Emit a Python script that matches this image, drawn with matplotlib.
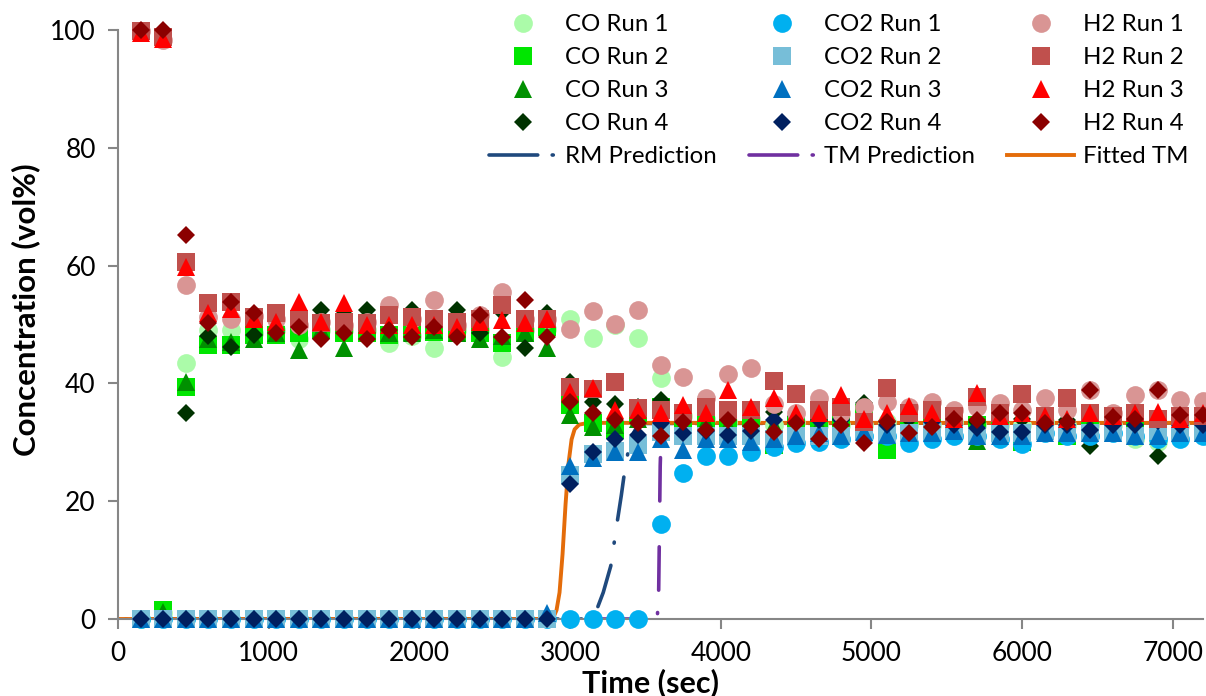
import matplotlib
matplotlib.use("Agg")
import matplotlib.pyplot as plt
from matplotlib.lines import Line2D

# ---------------- data ----------------
time_s = [150, 300, 450, 600, 750, 900, 1050, 1200, 1350, 1500, 1650, 1800,
          1950, 2100, 2250, 2400, 2550, 2700, 2850, 3000, 3150, 3300, 3450, 3600,
          3750, 3900, 4050, 4200, 4350, 4500, 4650, 4800, 4950, 5100, 5250, 5400,
          5550, 5700, 5850, 6000, 6150, 6300, 6450, 6600, 6750, 6900, 7050, 7200]

co_run1 = [0, 1.0, 43.4, 49.1, 49.1, 48.5, 49.0, 47.6, 49.0, 49.0, 49.0, 46.8,
           48.0, 46.0, 49.0, 49.0, 44.5, 49.0, 49.2, 51.0, 47.7, 50.0, 47.7, 41.0,
           34.5, 34.0, 33.5, 34.0, 33.0, 33.5, 33.0, 33.0, 33.0, 33.5, 33.0, 33.0,
           33.5, 33.0, 33.0, 33.0, 33.5, 33.0, 33.0, 33.0, 30.5, 30.0, 33.0, 33.0]
co_run2 = [0, 1.5, 39.4, 46.5, 46.5, 48.2, 48.2, 48.5, 49.0, 48.5, 48.5, 48.2,
           48.8, 48.8, 48.5, 48.5, 46.8, 48.5, 49.5, 36.3, 33.2, 32.1, 35.0, 36.0,
           34.0, 33.0, 33.5, 33.5, 29.5, 33.0, 34.0, 33.0, 35.0, 28.7, 33.5, 34.0,
           33.0, 33.0, 33.0, 30.0, 34.4, 31.0, 33.0, 33.0, 33.0, 33.0, 33.0, 33.0]
co_run3 = [0, 1.2, 40.3, 47.6, 47.0, 47.6, 48.5, 45.7, 49.0, 46.0, 49.9, 48.5,
           48.5, 49.0, 48.5, 47.6, 48.0, 48.5, 46.0, 34.6, 32.6, 33.0, 34.0, 34.0,
           33.0, 33.5, 33.0, 33.0, 33.0, 33.0, 33.0, 31.5, 33.5, 33.0, 33.0, 33.0,
           33.0, 30.3, 33.0, 33.0, 33.0, 33.0, 33.0, 33.0, 33.0, 32.0, 33.0, 33.0]
co_run4 = [0, 0, 34.9, 48.0, 46.2, 48.2, 51.3, 50.8, 52.5, 51.7, 52.5, 51.4,
           52.4, 50.5, 52.5, 48.5, 52.2, 46.0, 51.9, 40.3, 36.9, 36.5, 36.0, 37.2,
           34.9, 36.2, 34.9, 35.0, 35.2, 34.5, 36.0, 34.0, 36.6, 33.7, 34.0, 35.2,
           35.0, 33.5, 34.0, 34.0, 33.5, 33.8, 29.3, 33.5, 34.0, 27.6, 31.8, 33.0]

co2_run1 = [0, 0, 0, 0, 0, 0, 0, 0, 0, 0, 0, 0, 0, 0, 0, 0, 0, 0, 0, 0, 0, 0, 0,
            16.1, 24.8, 27.7, 27.7, 28.4, 29.2, 29.9, 30.0, 30.5, 31.0, 31.0, 29.9,
            30.5, 31.0, 31.0, 30.5, 29.7, 31.5, 31.0, 31.0, 31.5, 31.0, 30.5, 30.5, 31.0]
co2_run2 = [0, 0, 0, 0, 0, 0, 0, 0, 0, 0, 0, 0, 0, 0, 0, 0, 0, 0, 0,
            24.4, 28.0, 28.5, 29.5, 31.7, 31.0, 31.0, 31.0, 31.0, 30.5, 31.0, 31.0,
            31.0, 32.0, 31.2, 31.5, 32.0, 32.0, 31.0, 31.5, 31.5, 32.0, 31.5, 31.5,
            31.5, 31.0, 32.0, 31.5, 31.5]
co2_run3 = [0, 0, 0, 0, 0, 0, 0, 0, 0, 0, 0, 0, 0, 0, 0, 0, 0, 0, 1.0,
            25.9, 27.4, 28.3, 28.4, 30.5, 28.7, 30.5, 30.5, 30.0, 30.5, 31.0, 31.5,
            31.0, 31.8, 31.2, 31.5, 31.5, 32.0, 31.0, 31.0, 31.0, 31.5, 31.5, 31.5,
            31.5, 31.0, 31.0, 31.5, 31.5]
co2_run4 = [0, 0, 0, 0, 0, 0, 0, 0, 0, 0, 0, 0, 0, 0, 0, 0, 0, 0, 0,
            23.0, 28.4, 30.5, 31.2, 33.2, 31.6, 32.0, 31.3, 32.0, 33.8, 33.5, 33.8,
            33.8, 34.6, 33.0, 34.6, 33.5, 33.0, 32.5, 31.8, 31.8, 33.0, 33.0, 32.1,
            33.0, 33.0, 33.7, 33.0, 33.0]

h2_run1 = [99.8, 98.3, 56.7, 51.3, 51.0, 51.5, 51.0, 50.0, 50.5, 50.0, 50.5, 53.3,
           51.0, 54.2, 50.0, 51.6, 55.6, 51.0, 51.0, 49.2, 52.3, 50.1, 52.5, 43.2,
           41.1, 37.5, 41.6, 42.6, 36.5, 35.0, 37.5, 35.0, 36.0, 36.9, 36.0, 36.9,
           35.5, 36.0, 36.6, 35.5, 37.6, 35.5, 38.9, 35.0, 38.0, 38.9, 37.2, 37.0]
h2_run2 = [99.9, 98.8, 60.6, 53.6, 53.9, 51.3, 51.9, 51.0, 50.2, 50.5, 50.2, 51.6,
           51.3, 51.0, 50.5, 51.0, 53.3, 51.0, 51.0, 39.4, 39.0, 40.2, 35.8, 35.5,
           35.0, 36.0, 35.5, 35.5, 40.4, 38.2, 35.5, 36.0, 33.5, 39.2, 35.0, 35.5,
           34.5, 37.7, 35.0, 38.2, 34.5, 37.5, 34.9, 34.5, 35.0, 34.0, 34.5, 34.5]
h2_run3 = [99.5, 98.5, 59.8, 51.9, 52.7, 51.0, 50.5, 53.9, 50.5, 53.6, 50.0, 50.0,
           49.9, 50.0, 49.6, 50.5, 50.8, 50.2, 51.0, 38.5, 39.2, 35.5, 35.5, 35.0,
           36.3, 35.0, 38.9, 36.0, 37.5, 35.0, 35.0, 38.0, 34.0, 35.0, 36.2, 35.0,
           34.0, 38.3, 34.5, 35.0, 34.5, 34.0, 35.0, 34.5, 35.0, 35.2, 34.0, 35.0]
h2_run4 = [100.0, 100.0, 65.2, 50.2, 53.9, 51.9, 48.6, 49.5, 47.6, 48.5, 47.6, 49.1,
           47.8, 49.6, 47.8, 51.6, 47.9, 54.2, 47.9, 36.9, 34.9, 33.8, 33.2, 31.0,
           33.5, 32.1, 33.8, 32.8, 31.8, 33.2, 30.5, 32.9, 29.8, 33.5, 31.6, 32.6,
           34.0, 33.8, 34.9, 34.9, 33.2, 33.5, 38.9, 34.3, 34.0, 38.9, 34.6, 34.6]

# model curves
rm_t = [0, 3100, 3150, 3180, 3220, 3270, 3310, 3340, 3360, 3385, 3410, 3440, 3500, 7200]
rm_v = [0, 0, 0.5, 1.8, 4.5, 9.0, 16.0, 21.0, 24.7, 28.4, 31.0, 32.5, 33.2, 33.3]
tm_t = [0, 3560, 3580, 3588, 3593, 3598, 3604, 3615, 3635, 7200]
tm_v = [0, 0, 0.8, 5.0, 15.0, 26.0, 31.0, 32.8, 33.3, 33.3]
fit_t = [0, 2860, 2890, 2910, 2930, 2950, 2970, 2990, 3010, 3030, 3060, 3100, 3200, 7200]
fit_v = [0, 0, 0.3, 1.5, 4.5, 11.0, 19.5, 26.5, 30.5, 32.2, 33.0, 33.2, 33.3, 33.3]

# ---------------- style ----------------
plt.rcParams['font.family'] = ['Lato', 'DejaVu Sans']

fig = plt.figure(figsize=(12.06, 6.96), dpi=100)
ax = fig.add_axes([118 / 1206, 77 / 696, 1085 / 1206, 589 / 696])

line_w = 2.6
pattern = (12.0, 6.2, 0.3, 6.2)
rm_line, = ax.plot(rm_t, rm_v, color='#1F497D', lw=line_w, ls=(13.6, pattern),
                   dash_capstyle='round', zorder=2)
tm_line, = ax.plot(tm_t, tm_v, color='#7030A0', lw=line_w, ls=(16.1, pattern),
                   dash_capstyle='round', zorder=2.1)
fit_line, = ax.plot(fit_t, fit_v, color='#E46C0A', lw=2.8, ls='-',
                    solid_capstyle='round', zorder=2.2)

leg_pattern = (0, (13.5, 4.0, 0.3, 4.0))
rm_proxy = Line2D([], [], color='#1F497D', lw=line_w, ls=leg_pattern,
                  dash_capstyle='round', label='RM Prediction')
tm_proxy = Line2D([], [], color='#7030A0', lw=line_w, ls=leg_pattern,
                  dash_capstyle='round', label='TM Prediction')
fit_proxy = Line2D([], [], color='#E46C0A', lw=2.8, ls='-', label='Fitted TM')

series = [
    ('CO Run 1', co_run1, 'o', '#ABFBA9', 13.5),
    ('CO Run 2', co_run2, 's', '#00E600', 13.0),
    ('CO Run 3', co_run3, '^', '#009000', 13.5),
    ('CO Run 4', co_run4, 'D', '#003300', 9.3),
    ('CO2 Run 1', co2_run1, 'o', '#00B0F0', 13.5),
    ('CO2 Run 2', co2_run2, 's', '#77BED8', 13.0),
    ('CO2 Run 3', co2_run3, '^', '#0070C0', 13.5),
    ('CO2 Run 4', co2_run4, 'D', '#002060', 9.3),
    ('H2 Run 1', h2_run1, 'o', '#D99594', 13.5),
    ('H2 Run 2', h2_run2, 's', '#C0504D', 13.0),
    ('H2 Run 3', h2_run3, '^', '#FF0000', 13.5),
    ('H2 Run 4', h2_run4, 'D', '#8B0000', 9.3),
]
handles = {}
for i, (name, vals, mk, col, ms) in enumerate(series):
    h, = ax.plot(time_s, vals, ls='none', marker=mk, ms=ms, mfc=col, mec=col,
                 mew=0, clip_on=False, zorder=3 + i * 0.01, label=name)
    handles[name] = h

ax.set_xlim(0, 7200)
ax.set_ylim(0, 100)
ax.set_xticks([0, 1000, 2000, 3000, 4000, 5000, 6000, 7000])
ax.set_yticks([0, 20, 40, 60, 80, 100])
for s in ['top', 'right']:
    ax.spines[s].set_visible(False)
for s in ['left', 'bottom']:
    ax.spines[s].set_color('#868686')
    ax.spines[s].set_linewidth(1.5)
ax.tick_params(axis='both', direction='out', length=7, width=1.5,
               color='#868686', labelsize=19, labelcolor='black')
ax.tick_params(axis='x', pad=9)
ax.tick_params(axis='y', pad=9)

ax.set_xlabel('Time (sec)', fontsize=22, fontweight='bold')
ax.xaxis.set_label_coords((650 - 118) / 1085, (619 - 668) / 589)
ax.set_ylabel('Concentration (vol%)', fontsize=22.5, fontweight='bold')
ax.yaxis.set_label_coords((40 - 118) / 1085, (619 - 310) / 589)

order = ['CO Run 1', 'CO Run 2', 'CO Run 3', 'CO Run 4', rm_proxy,
         'CO2 Run 1', 'CO2 Run 2', 'CO2 Run 3', 'CO2 Run 4', tm_proxy,
         'H2 Run 1', 'H2 Run 2', 'H2 Run 3', 'H2 Run 4', fit_proxy]
leg_h = [handles[nm] if isinstance(nm, str) else nm for nm in order]
leg = ax.legend(handles=leg_h, labels=[h.get_label() for h in leg_h], ncol=3,
                loc='upper right', bbox_to_anchor=(1198 / 1206, (696 - 4.5) / 696),
                bbox_transform=fig.transFigure, frameon=False, fontsize=17.3,
                handlelength=2.8, handletextpad=0.35, columnspacing=1.33,
                labelspacing=0.5, numpoints=1, borderaxespad=0)
leg.set_zorder(10)

fig.savefig('out.png', dpi=100)
